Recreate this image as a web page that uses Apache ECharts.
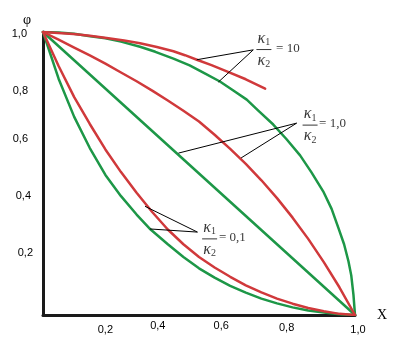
<!DOCTYPE html>
<html>
<head>
<meta charset="utf-8">
<script src="https://cdn.jsdelivr.net/npm/echarts@6/dist/echarts.min.js"></script>
<style>html,body{margin:0;padding:0;background:#fff}#c{width:398px;height:363px}</style>
</head>
<body>
<div id="c"></div>
<script>
// ---- data ----
const xTickValues = [0.2, 0.4, 0.6, 0.8, 1.0];
const xTickLabels = ['0,2', '0,4', '0,6', '0,8', '1,0'];
const yTickValues = [0.2, 0.4, 0.6, 0.8, 1.0];
const yTickLabels = ['0,2', '0,4', '0,6', '0,8', '1,0'];

// green curves
const g10X = [0, 0.05, 0.1, 0.151, 0.2, 0.25, 0.311, 0.36, 0.418, 0.47, 0.52, 0.567, 0.61, 0.653, 0.69, 0.738, 0.78, 0.824, 0.86, 0.898, 0.925, 0.947, 0.965, 0.979, 0.988, 0.995, 1];
const g10Y = [1, 0.998, 0.994, 0.985, 0.978, 0.966, 0.948, 0.93, 0.906, 0.882, 0.853, 0.825, 0.793, 0.761, 0.722, 0.673, 0.622, 0.564, 0.505, 0.437, 0.375, 0.307, 0.25, 0.19, 0.14, 0.072, 0];
const g1X = [0, 1];
const g1Y = [1, 0];
const g01X = [0, 0.05, 0.1, 0.15, 0.2, 0.25, 0.3, 0.345, 0.4, 0.45, 0.5, 0.55, 0.6, 0.65, 0.7, 0.75, 0.8, 0.85, 0.9, 0.95, 1];
const g01Y = [1, 0.835, 0.70, 0.59, 0.495, 0.42, 0.355, 0.302, 0.25, 0.205, 0.165, 0.132, 0.103, 0.079, 0.058, 0.041, 0.027, 0.016, 0.009, 0.003, 0];
// red curves
const r10X = [0, 0.097, 0.15, 0.204, 0.26, 0.311, 0.365, 0.418, 0.455, 0.493, 0.54, 0.589, 0.65, 0.712];
const r10Y = [1, 0.993, 0.987, 0.979, 0.97, 0.96, 0.947, 0.932, 0.918, 0.902, 0.883, 0.861, 0.833, 0.80];
const r1X = [0, 0.05, 0.1, 0.15, 0.2, 0.25, 0.3, 0.35, 0.4, 0.45, 0.5, 0.55, 0.6, 0.65, 0.7, 0.75, 0.8, 0.85, 0.9, 0.95, 1];
const r1Y = [1, 0.973, 0.945, 0.917, 0.888, 0.857, 0.826, 0.793, 0.758, 0.722, 0.684, 0.637, 0.587, 0.534, 0.476, 0.413, 0.344, 0.269, 0.187, 0.098, 0];
const r01X = [0, 0.05, 0.1, 0.15, 0.2, 0.25, 0.3, 0.35, 0.4, 0.45, 0.5, 0.55, 0.6, 0.65, 0.7, 0.75, 0.8, 0.85, 0.9, 0.95, 1];
const r01Y = [1, 0.88, 0.77, 0.675, 0.585, 0.505, 0.432, 0.364, 0.302, 0.25, 0.205, 0.168, 0.135, 0.105, 0.08, 0.058, 0.04, 0.025, 0.013, 0.004, 0];

// annotations: ratio values, leader lines (red point, vertex, green point)
const ratioLabels = ['10', '1,0', '0,1'];
const leader10 = [[0.493, 0.902], [0.674, 0.937], [0.562, 0.823]];
const leader1 = [[0.635, 0.555], [0.813, 0.678], [0.434, 0.572]];
const leader01 = [[0.327, 0.384], [0.495, 0.293], [0.343, 0.304]];
const fracAnchors = [[0.708, 0.938], [0.856, 0.671], [0.534, 0.269]];
const eqAnchors = [[0.747, 0.943], [0.885, 0.678], [0.564, 0.272]];

// ---- styles (label nudges) ----
const xNudge = [[0, 6], [-10, 2], [-9, 2], [-6, 4], [3, 6]];      // [dx, padTop]
const yNudge = [[0, 0, 11], [2, 0, 12], [5, 0, 12], [5, 5, 0], [6, 4, 0]]; // [padRight, padTop, padBottom]

const zip = (xs, ys) => xs.map((x, i) => [x, ys[i]]);
const RED = '#d0393b', GREEN = '#1d9747';

const xRich = {}, yRich = {};
xNudge.forEach((n, i) => {
  const dx = n[0];
  xRich['t' + i] = {fontFamily: 'Liberation Sans', fontSize: 11, color: '#000',
    padding: [n[1], dx < 0 ? -2 * dx : 0, 0, dx > 0 ? 2 * dx : 0]};
});
yNudge.forEach((n, i) => {
  yRich['t' + i] = {fontFamily: 'Liberation Sans', fontSize: 11, color: '#000',
    padding: [n[1], n[0], n[2], 0]};
});
function findIdx(arr, v) { return arr.findIndex(a => Math.abs(a - v) < 1e-6); }

function curve(data, color) {
  return {type: 'line', data: data, showSymbol: false, symbol: 'none', smooth: false,
    lineStyle: {color: color, width: 2.5, join: 'round', cap: 'round'}, silent: true, z: color === RED ? 3 : 2};
}
function leader(data) {
  return {type: 'line', data: data, symbol: 'none', smooth: false,
    lineStyle: {color: '#000', width: 1}, silent: true, z: 4};
}

const fracRich = {
  k: {fontFamily: 'Liberation Serif', fontStyle: 'italic', fontSize: 16, color: '#000', lineHeight: 18},
  s: {fontFamily: 'Liberation Serif', fontSize: 10, color: '#000', lineHeight: 10, verticalAlign: 'bottom'},
  bar: {width: 15, height: 1, backgroundColor: '#000', lineHeight: 4}
};
const labelData = [];
fracAnchors.forEach((p, i) => {
  labelData.push({value: p, label: {show: true, position: 'inside', align: 'center', verticalAlign: 'middle',
    formatter: '{k|κ}{s|1}\n{bar|}\n{k|κ}{s|2}', rich: fracRich}});
  labelData.push({value: eqAnchors[i], label: {show: true, position: 'inside', align: 'left', verticalAlign: 'middle',
    formatter: '= ' + ratioLabels[i], fontFamily: 'Liberation Serif', fontSize: 13, color: '#000'}});
});

const chart = echarts.init(document.getElementById('c'), null, {renderer: 'canvas'});
chart.setOption({
  animation: false,
  backgroundColor: '#fff',
  grid: {left: 43, top: 32, width: 312, height: 283, containLabel: false},
  xAxis: {
    type: 'value', min: 0, max: 1, interval: 0.2,
    axisLine: {lineStyle: {color: '#1a1a1a', width: 3}},
    axisTick: {show: false}, splitLine: {show: false},
    axisLabel: {margin: 3, formatter: v => { const i = findIdx(xTickValues, v); return i < 0 ? '' : '{t' + i + '|' + xTickLabels[i] + '}'; }, rich: xRich},
    name: 'X', nameLocation: 'end', nameGap: 22,
    nameTextStyle: {fontFamily: 'Liberation Serif', fontSize: 14, color: '#000', padding: [10, 0, 0, 0]}
  },
  yAxis: {
    type: 'value', min: 0, max: 1, interval: 0.2,
    axisLine: {lineStyle: {color: '#1a1a1a', width: 3}},
    axisTick: {show: false}, splitLine: {show: false},
    axisLabel: {margin: 10, formatter: v => { const i = findIdx(yTickValues, v); return i < 0 ? '' : '{t' + i + '|' + yTickLabels[i] + '}'; }, rich: yRich},
    name: 'φ', nameLocation: 'end', nameGap: 5,
    nameTextStyle: {fontFamily: 'Liberation Serif', fontSize: 14, color: '#000', align: 'center', padding: [0, 32, 0, 0]}
  },
  series: [
    curve(zip(g10X, g10Y), GREEN),
    curve(zip(g1X, g1Y), GREEN),
    curve(zip(g01X, g01Y), GREEN),
    curve(zip(r10X, r10Y), RED),
    curve(zip(r1X, r1Y), RED),
    curve(zip(r01X, r01Y), RED),
    leader(leader10), leader(leader1), leader(leader01),
    {type: 'scatter', data: labelData, symbolSize: 0, silent: true, z: 5}
  ]
});
</script>
</body>
</html>
